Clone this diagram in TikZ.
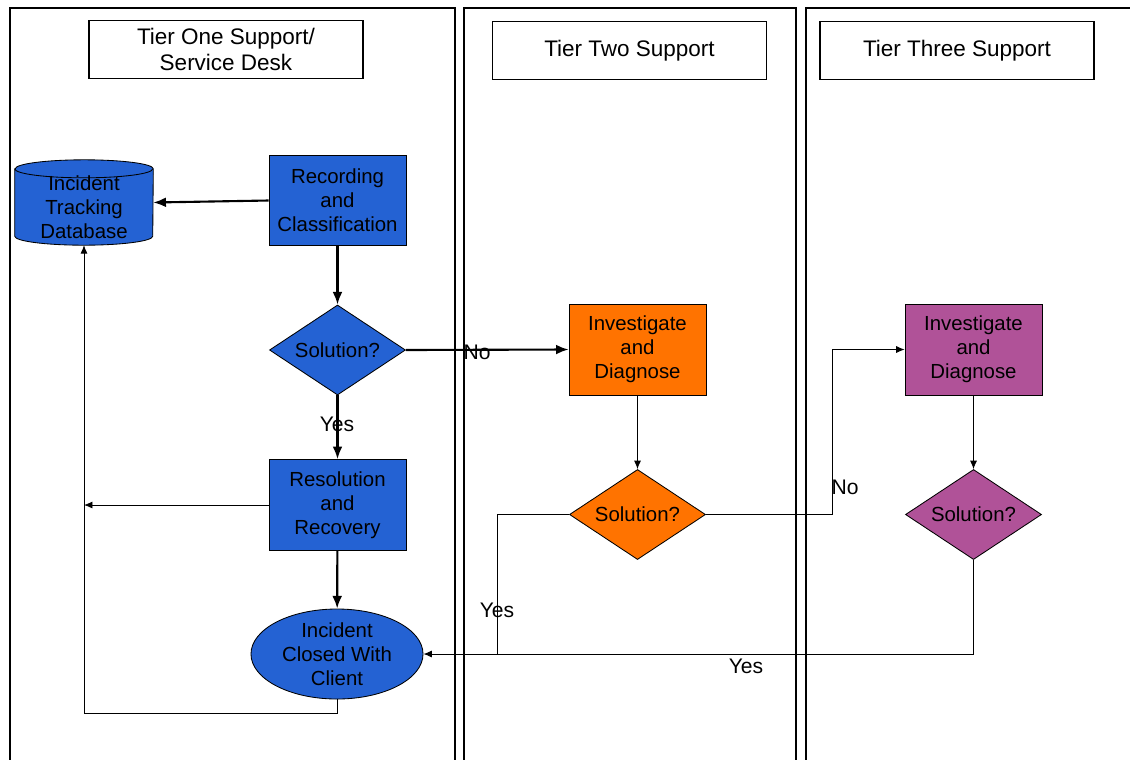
\documentclass[tikz,border=0pt]{standalone}
\usepackage{fontspec}
\setmainfont{Liberation Sans}
\usetikzlibrary{shapes.geometric,arrows.meta}
\definecolor{tierblue}{RGB}{36,98,211}
\definecolor{tierorange}{RGB}{255,115,0}
\definecolor{tierpurple}{RGB}{176,82,152}
\tikzset{
  lane/.style={draw,line width=1.4pt},
  header/.style={draw,line width=1pt,fill=white,minimum width=6.85cm,minimum height=1.45cm,align=center,inner sep=2pt,
    font=\fontsize{16}{18.5}\selectfont},
  procbox/.style={draw,line width=0.6pt,minimum width=3.42cm,minimum height=2.27cm,align=center,inner sep=1pt},
  decision/.style={diamond,draw,line width=0.6pt,minimum width=3.4cm,minimum height=2.25cm,inner sep=0pt,aspect=1.5},
  flow/.style={-{Latex[length=9pt,width=7pt]},line width=1.5pt},
  thinflow/.style={-{Latex[length=6pt,width=5pt]},line width=0.6pt},
  answer/.style={font=\fontsize{15}{17}\selectfont,inner sep=0pt},
  dbcap/.style={x radius=1.725cm,y radius=0.225cm}
}
\begin{document}
\begin{tikzpicture}[x=0.025cm,y=-0.025cm,font=\fontsize{14.5}{17}\selectfont]
  \useasboundingbox (0,0) rectangle (1130,759);
  \clip (0,0) rectangle (1130,759);
  % swim lanes
  \draw[lane] (10,8) rectangle (455,800);
  \draw[lane] (464,8) rectangle (796,800);
  \draw[lane] (806,8) rectangle (1150,800);
  \node[header] (head1) at (226,49.5) {Tier One Support/\\Service Desk};
  \node[header] (head2) at (629.5,50.5) {Tier Two Support};
  \node[header] (head3) at (957,50.5) {Tier Three Support};
  % tier one: database drawn as a cylinder round an empty node
  \node[minimum width=3.45cm,minimum height=2.12cm,inner sep=0pt] (db) at (84,202.5) {};
  \draw[fill=tierblue,line width=0.6pt] ([yshift=-0.225cm]db.north west)
    -- ([yshift=0.225cm]db.south west) arc[start angle=180,end angle=360,dbcap]
    -- ([yshift=-0.225cm]db.north east) arc[start angle=0,end angle=180,dbcap] -- cycle;
  \draw[line width=0.6pt] ([yshift=-0.225cm]db.north west) arc[start angle=180,end angle=360,dbcap];
  \node[align=center,inner sep=0pt] (dbtext) at (84,207) {Incident\\Tracking\\Database};
  \node[procbox,fill=tierblue] (record) at (337.5,200.5) {Recording\\and\\Classification};
  \node[decision,fill=tierblue] (sol1) at (337.5,350) {Solution?};
  \node[procbox,fill=tierblue] (resolve) at (337.5,505) {Resolution\\and\\Recovery};
  \node[ellipse,draw,line width=0.6pt,fill=tierblue,minimum width=4.3cm,minimum height=2.25cm,
    align=center,inner sep=0pt] (close) at (337,654) {Incident\\Closed With\\Client};
  % tier two
  \node[procbox,fill=tierorange] (inv2) at (637.5,349.5) {Investigate\\and\\Diagnose};
  \node[decision,fill=tierorange] (sol2) at (637.5,514.5) {Solution?};
  % tier three
  \node[procbox,fill=tierpurple] (inv3) at (973.5,349.5) {Investigate\\and\\Diagnose};
  \node[decision,fill=tierpurple] (sol3) at (973.5,514.5) {Solution?};
  \coordinate (yesjoin) at (497,654);
  \coordinate (nobend) at (832,514.5);
  % connectors
  \draw[flow] (record.west) -- (db.east);
  \draw[flow] (record) -- (sol1);
  \draw[flow] (sol1) -- (resolve);
  \draw[flow] (resolve) -- (close);
  \draw[thinflow] (resolve.west) -- (resolve.west -| db.south);
  \draw[thinflow] (close.south) -- ++(0,14) -| (db.south);
  \draw[flow] (sol1.east) -- (inv2.west);
  \draw[thinflow] (inv2) -- (sol2);
  \draw[thinflow] (inv3) -- (sol3);
  \draw[line width=0.6pt] (sol2.west) -| (yesjoin);
  \draw[thinflow] (sol3.south) |- (close.east);
  \draw[thinflow] (sol2.east) -- (nobend) |- (inv3.west);
  % labels
  \node[answer] (yes1) at (337,424) {Yes};
  \node[answer] (no1) at (477,352) {No};
  \node[answer] (yes2) at (497,610) {Yes};
  \node[answer] (no2) at (845,487) {No};
  \node[answer] (yes3) at (746,666) {Yes};
\end{tikzpicture}
\end{document}
